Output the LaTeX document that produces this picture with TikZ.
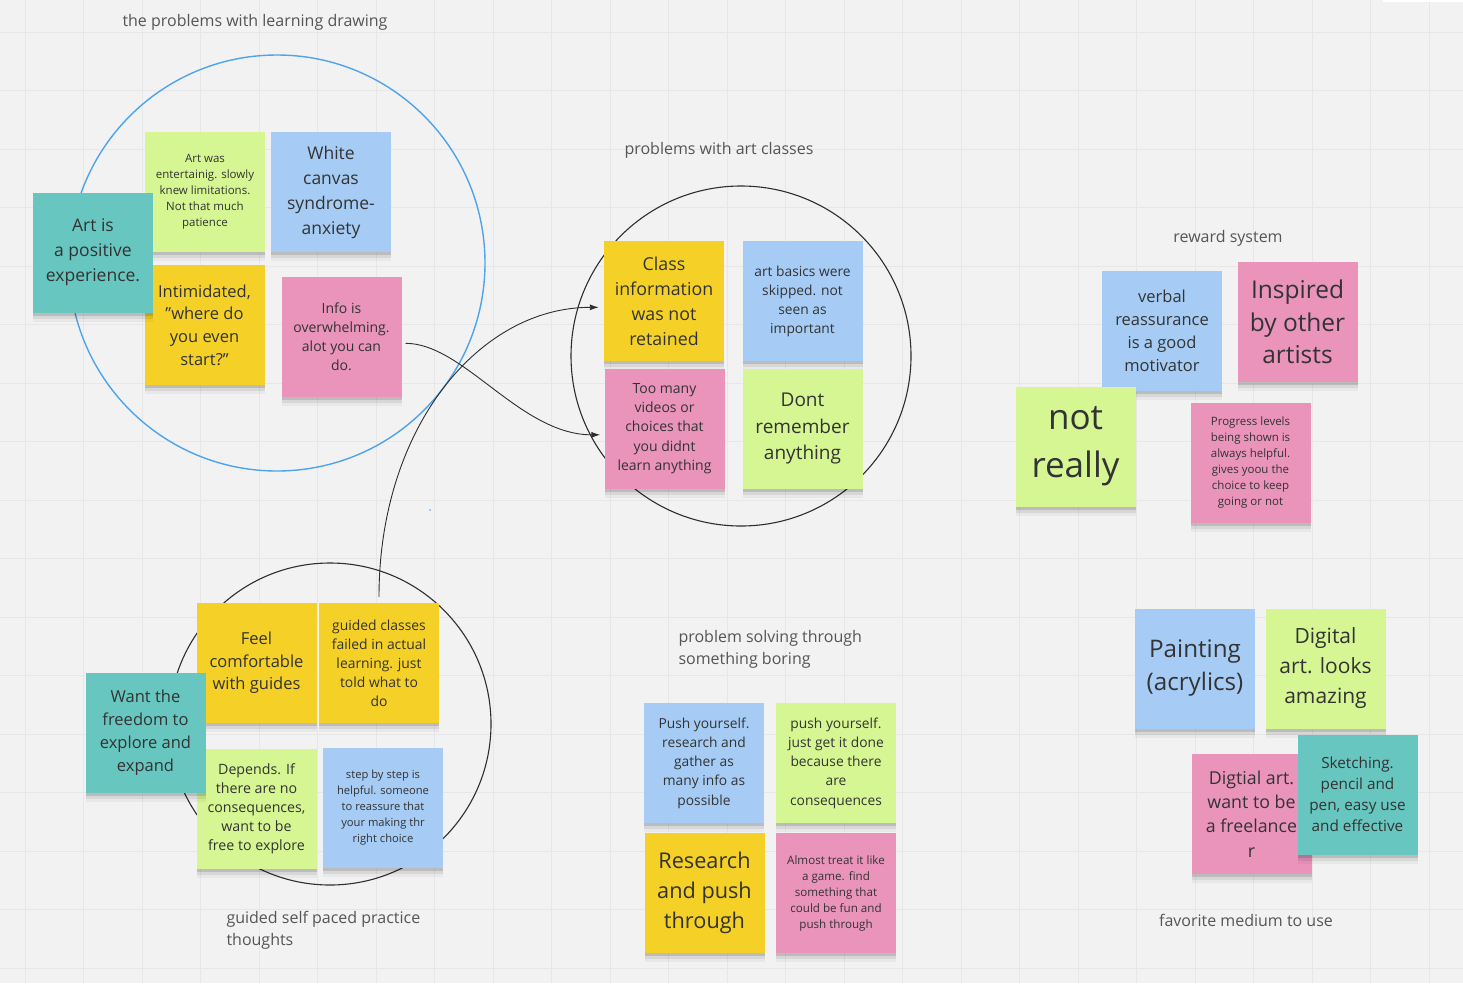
\documentclass[tikz,border=0pt]{standalone}
\usepackage{fontspec}
\setmainfont{Open Sans}
\usetikzlibrary{arrows.meta,shadows}

\definecolor{board}{HTML}{F2F2F2}
\definecolor{gridline}{HTML}{E7E7E7}
\definecolor{inkgray}{HTML}{333333}
\definecolor{titlegray}{HTML}{555555}
\definecolor{ringblue}{HTML}{4DA4EC}
\definecolor{ringblack}{HTML}{2E2E2E}
\definecolor{stickygreen}{HTML}{D5F692}
\definecolor{stickyyellow}{HTML}{F5D128}
\definecolor{stickyblue}{HTML}{A6CCF5}
\definecolor{stickypink}{HTML}{EA94BB}
\definecolor{stickyteal}{HTML}{67C6C0}

\newcommand{\notefont}[2]{\fontsize{#1}{#2}\selectfont}

\begin{document}
\begin{tikzpicture}[x=1pt,y=-1pt,
		sticky/.style={minimum width=120pt, minimum height=120pt, inner sep=2pt, align=center, text=inkgray,
			drop shadow={shadow xshift=0pt, shadow yshift=-9pt, opacity=.04, fill=black},
			drop shadow={shadow xshift=0pt, shadow yshift=-6pt, opacity=.07, fill=black},
			drop shadow={shadow xshift=0pt, shadow yshift=-3pt, opacity=.12, fill=black}},
		heading/.style={text=titlegray, font=\notefont{16}{22}, align=left},
		ring/.style={line width=1.1pt, draw=ringblack},
		link/.style={line width=.9pt, draw=ringblack, -{Latex[length=9pt,width=6pt]}},
	]
	%board
		\useasboundingbox (0,0) rectangle (1463,983);
		\fill[board] (0,0) rectangle (1463,983);
		\foreach \x in {25,83.5,...,1463}{
			\draw[gridline, line width=.8pt] (\x,0) -- (\x,983);
		}
		\foreach \y in {32,90.5,...,983}{
			\draw[gridline, line width=.6pt] (0,\y) -- (1463,\y);
		}
		\fill[white] (1383,0) rectangle (1463,2);
		
	%headings
		\node[heading] (hdrawing) at (255,22) {the problems with learning drawing};
		\node[heading] (hclasses) at (719,150) {problems with art classes};
		\node[heading] (hreward) at (1228,238) {reward system};
		\node[heading, anchor=north west] (hboring) at (675,627) {problem solving through\\something boring};
		\node[heading, anchor=north west] (hguided) at (223,908) {guided self paced practice\\thoughts};
		\node[heading] (hmedium) at (1246,920) {favorite medium to use};
		
	%circles
		\draw[line width=1.4pt, ringblue] (277,263) circle[radius=208];
		\draw[ring] (741,356) circle[radius=170];
		\draw[ring] (330,724) circle[radius=161];
		\fill[ringblue] (430,510) circle[radius=.9];
		
	%the problems with learning drawing
		\node[sticky, fill=stickygreen, font=\notefont{11.5}{16}] (entertain) at (205,192) {Art was\\entertainig. slowly\\knew limitations.\\Not that much\\patience};
		\node[sticky, fill=stickyblue, font=\notefont{17.5}{25}] (canvas) at (331,192) {White\\canvas\\syndrome-\\anxiety};
		\node[sticky, fill=stickyyellow, font=\notefont{16.5}{22.7}] (intimid) at (204.5,325) {Intimidated,\\”where do\\you even\\start?”};
		\node[sticky, fill=stickypink, font=\notefont{14}{19}] (overwhelm) at (341.5,337) {Info is\\overwhelming.\\alot you can\\do.};
		\node[sticky, fill=stickyteal, font=\notefont{17.5}{25}] (artpos) at (93,252.5) {Art is\\a positive\\experience.};
		
	%problems with art classes
		\node[sticky, fill=stickyyellow, font=\notefont{17.8}{25}] (classinfo) at (664,301) {Class\\information\\was not\\retained};
		\node[sticky, fill=stickyblue, font=\notefont{13.8}{19}] (basics) at (802.5,301) {art basics were\\skipped. not\\seen as\\important};
		\node[sticky, fill=stickypink, font=\notefont{14}{19.3}] (toomany) at (664.5,428.5) {Too many\\videos or\\choices that\\you didnt\\learn anything};
		\node[sticky, fill=stickygreen, font=\notefont{19}{26.5}] (dontrem) at (802.5,428.5) {Dont\\remember\\anything};
		
	%reward system
		\node[sticky, fill=stickyblue, font=\notefont{16.5}{23}] (verbal) at (1162,330.5) {verbal\\reassurance\\is a good\\motivator};
		\node[sticky, fill=stickypink, font=\notefont{24.5}{32.5}] (inspired) at (1297.5,322) {Inspired\\by other\\artists};
		\node[sticky, fill=stickygreen, font=\notefont{35}{48}] (notreally) at (1075.5,446.5) {not\\really};
		\node[sticky, fill=stickypink, font=\notefont{11.5}{16}] (progress) at (1250.5,462.5) {Progress levels\\being shown is\\always helpful.\\gives yoou the\\choice to keep\\going or not};
		
	%guided self paced practice
		\node[sticky, fill=stickyyellow, font=\notefont{16.5}{22.5}] (feel) at (256.5,663) {Feel\\comfortable\\with guides};
		\node[sticky, fill=stickyyellow, font=\notefont{13.9}{19}] (guided) at (379,663) {guided classes\\failed in actual\\learning. just\\told what to\\do};
		\node[sticky, fill=stickygreen, font=\notefont{14.2}{19}] (depends) at (256.5,808.5) {Depends. If\\there are no\\consequences,\\want to be\\free to explore};
		\node[sticky, fill=stickyblue, font=\notefont{11.2}{15.8}] (stepbystep) at (383,807.5) {step by step is\\helpful. someone\\to reassure that\\your making thr\\right choice};
		\node[sticky, fill=stickyteal, font=\notefont{16.5}{23}] (freedom) at (145.5,732.5) {Want the\\freedom to\\explore and\\expand};
		
	%problem solving through something boring
		\node[sticky, fill=stickyblue, font=\notefont{13.8}{19.3}] (pushres) at (704,763) {Push yourself.\\research and\\gather as\\many info as\\possible};
		\node[sticky, fill=stickygreen, font=\notefont{13.8}{19.3}] (pushdone) at (836,763) {push yourself.\\just get it done\\because there\\are\\consequences};
		\node[sticky, fill=stickyyellow, font=\notefont{21.7}{30}] (research) at (704.5,893) {Research\\and push\\through};
		\node[sticky, fill=stickypink, font=\notefont{11.6}{16}] (game) at (836,893) {Almost treat it like\\a game. find\\something that\\could be fun and\\push through};
		
	%favorite medium to use
		\node[sticky, fill=stickyblue, font=\notefont{24.2}{33}] (painting) at (1195,668.5) {Painting\\(acrylics)};
		\node[sticky, fill=stickygreen, font=\notefont{21}{30}] (digital) at (1325.5,668.5) {Digital\\art. looks\\amazing};
		\node[sticky, fill=stickypink, font=\notefont{17.8}{24.3}] (freelance) at (1251.5,814) {Digtial art.\\want to be\\a freelance\\r};
		\node[sticky, fill=stickyteal, font=\notefont{15.3}{21}] (sketching) at (1357.5,794.5) {Sketching.\\pencil and\\pen, easy use\\and effective};
		
	%links
		\draw[link, shorten <=4pt, shorten >=4pt] (overwhelm.-6) .. controls +(62,0) and +(-84,0) .. (toomany.186);
		\draw[link, shorten <=6pt, shorten >=5pt] (guided.north) .. controls +(0,-175) and +(-125,0) .. (classinfo.186);
\end{tikzpicture}
\end{document}
